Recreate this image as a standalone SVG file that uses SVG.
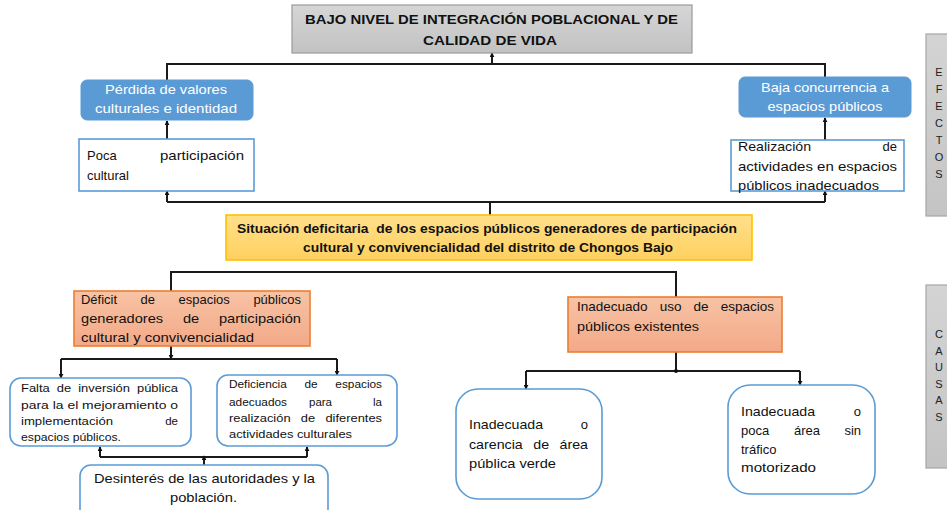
<svg xmlns="http://www.w3.org/2000/svg" width="947" height="510" viewBox="0 0 947 510">
<defs>
<linearGradient id="gGray" x1="0" y1="0" x2="0" y2="1"><stop offset="0" stop-color="#d6d6d6"/><stop offset="1" stop-color="#c2c2c2"/></linearGradient>
<linearGradient id="gYel" x1="0" y1="0" x2="0" y2="1"><stop offset="0" stop-color="#ffe08a"/><stop offset="1" stop-color="#ffd060"/></linearGradient>
<linearGradient id="gSal" x1="0" y1="0" x2="0" y2="1"><stop offset="0" stop-color="#f7c3a4"/><stop offset="1" stop-color="#f3a988"/></linearGradient>
<linearGradient id="gSide" x1="0" y1="0" x2="0" y2="1"><stop offset="0" stop-color="#d4d4d4"/><stop offset="1" stop-color="#c4c4c4"/></linearGradient>
<marker id="ar" viewBox="0 0 6 6" refX="5" refY="3" markerWidth="5" markerHeight="5" orient="auto" markerUnits="userSpaceOnUse"><path d="M0,0 L6,3 L0,6 z" fill="#111"/></marker>
</defs>
<style>
text{font-family:"Liberation Sans",Arial,sans-serif;fill:#111;}
.b{font-weight:bold;}
.w{fill:#fff;}
.f13{font-size:13px;}
.f12{font-size:12.5px;}
.f11{font-size:11.5px;}
.side{font-size:11px;fill:#222;}
.gray{fill:url(#gGray);stroke:#9a9a9a;stroke-width:1.2;}
.blue{fill:#5b9bd5;stroke:#5b9bd5;}
.wb{fill:#fff;stroke:#5b9bd5;stroke-width:1.6;}
.yel{fill:url(#gYel);stroke:#ffc000;stroke-width:1.6;}
.sal{fill:url(#gSal);stroke:#ed7d31;stroke-width:1.6;}
.sidebar{fill:url(#gSide);stroke:#a6a6a6;stroke-width:1.2;}
.c{fill:none;stroke:#1a1a1a;stroke-width:2;}
.ca{fill:none;stroke:#1a1a1a;stroke-width:2;marker-end:url(#ar);}
</style>

<g id="connectors">
<path class="c" d="M167,80 V64 H825 V77"/>
<path class="ca" d="M492,64 V53"/>
<path class="ca" d="M167,139 V121"/>
<path class="ca" d="M825,140 V118"/>
<path class="c" d="M490,215 V202"/>
<path class="ca" d="M167,202 V191"/>
<path class="ca" d="M825,202 H167 M825,202 V191"/>
<path class="c" d="M171,291 V272 H676 V297"/>
<path class="ca" d="M171,346 V359"/>
<path class="c" d="M61,359 H337"/>
<path class="ca" d="M61,359 V378"/>
<path class="ca" d="M337,359 V375"/>
<path class="ca" d="M100,457 V447"/>
<path class="ca" d="M307,457 V447"/>
<path class="c" d="M100,457 H307"/>
<path class="ca" d="M204,465 V456"/>
<path class="c" d="M676,352 V371"/>
<path class="c" d="M526,371 H800"/>
<circle cx="676" cy="371" r="2" fill="#111"/>
<path class="ca" d="M526,371 V389"/>
<path class="ca" d="M800,371 V385"/>
</g>

<g id="node-top">
<rect class="gray" x="292" y="5" width="400" height="48"/>
<text class="b f13" x="491.5" y="24" text-anchor="middle" textLength="373" lengthAdjust="spacingAndGlyphs">BAJO NIVEL DE INTEGRACIÓN POBLACIONAL Y DE</text>
<text class="b f13" x="490" y="45" text-anchor="middle" textLength="134" lengthAdjust="spacingAndGlyphs">CALIDAD DE VIDA</text>
</g>

<g id="node-perdida">
<rect class="blue" x="81" y="80" width="172" height="40" rx="6"/>
<text class="w f13" x="166" y="93.5" text-anchor="middle" textLength="122" lengthAdjust="spacingAndGlyphs">Pérdida de valores</text>
<text class="w f13" x="166" y="112.5" text-anchor="middle" textLength="142" lengthAdjust="spacingAndGlyphs">culturales e identidad</text>
</g>

<g id="node-poca">
<rect class="wb" x="79" y="139" width="175" height="52"/>
<text class="f13" x="87" y="159.5">Poca</text>
<text class="f13" x="244" y="159.5" text-anchor="end" textLength="84" lengthAdjust="spacingAndGlyphs">participación</text>
<text class="f13" x="87" y="179.5">cultural</text>
</g>

<g id="node-baja">
<rect class="blue" x="739" y="77" width="172" height="40" rx="6"/>
<text class="w f13" x="825" y="91.5" text-anchor="middle" textLength="128" lengthAdjust="spacingAndGlyphs">Baja concurrencia a</text>
<text class="w f13" x="825" y="110.5" text-anchor="middle" textLength="115" lengthAdjust="spacingAndGlyphs">espacios públicos</text>
</g>

<g id="node-realizacion">
<rect class="wb" x="731" y="140" width="173" height="51"/>
<text class="f13" x="738" y="151" textLength="73" lengthAdjust="spacingAndGlyphs">Realización</text>
<text class="f13" x="897" y="151" text-anchor="end">de</text>
<text class="f13" x="738" y="171" textLength="159" lengthAdjust="spacingAndGlyphs">actividades en espacios</text>
<text class="f13" x="738" y="189.5" textLength="141" lengthAdjust="spacingAndGlyphs">públicos inadecuados</text>
</g>

<g id="node-situacion">
<rect class="yel" x="226" y="215" width="526" height="45"/>
<text class="b f12" x="487" y="232.5" text-anchor="middle" textLength="500" lengthAdjust="spacingAndGlyphs">Situación deficitaria&#160; de los espacios públicos generadores de participación</text>
<text class="b f12" x="488" y="251.5" text-anchor="middle" textLength="370" lengthAdjust="spacingAndGlyphs">cultural y convivencialidad del distrito de Chongos Bajo</text>
</g>

<g id="node-deficit">
<rect class="sal" x="74" y="291" width="236" height="55"/>
<text class="f13" x="81" y="303.5" textLength="220" lengthAdjust="spacingAndGlyphs" word-spacing="20">Déficit de espacios públicos</text>
<text class="f13" x="81" y="322.5" textLength="220" lengthAdjust="spacingAndGlyphs" word-spacing="14">generadores de participación</text>
<text class="f13" x="81" y="341.5" textLength="173" lengthAdjust="spacingAndGlyphs">cultural y convivencialidad</text>
</g>

<g id="node-inadecuado-uso">
<rect class="sal" x="568" y="297" width="214" height="55"/>
<text class="f13" x="577" y="310.5" textLength="197" lengthAdjust="spacingAndGlyphs" word-spacing="8">Inadecuado uso de espacios</text>
<text class="f13" x="577" y="330.5" textLength="122" lengthAdjust="spacingAndGlyphs">públicos existentes</text>
</g>

<g id="node-falta">
<rect class="wb" x="10" y="378" width="181" height="68" rx="11"/>
<text class="f11" x="21" y="392" textLength="157" lengthAdjust="spacingAndGlyphs" word-spacing="3">Falta de inversión pública</text>
<text class="f11" x="21" y="409" textLength="157" lengthAdjust="spacingAndGlyphs">para la el mejoramiento o</text>
<text class="f11" x="21" y="425" textLength="92" lengthAdjust="spacingAndGlyphs">implementación</text>
<text class="f11" x="178" y="425" text-anchor="end">de</text>
<text class="f11" x="21" y="441" textLength="100" lengthAdjust="spacingAndGlyphs">espacios públicos.</text>
</g>

<g id="node-deficiencia">
<rect class="wb" x="217" y="375" width="180" height="71" rx="11"/>
<text class="f11" x="229" y="388" textLength="153" lengthAdjust="spacingAndGlyphs" word-spacing="14">Deficiencia de espacios</text>
<text class="f11" x="229" y="406" textLength="58" lengthAdjust="spacingAndGlyphs">adecuados</text>
<text class="f11" x="309" y="406">para</text>
<text class="f11" x="382" y="406" text-anchor="end">la</text>
<text class="f11" x="229" y="422" textLength="153" lengthAdjust="spacingAndGlyphs" word-spacing="6">realización de diferentes</text>
<text class="f11" x="229" y="438" textLength="123" lengthAdjust="spacingAndGlyphs">actividades culturales</text>
</g>

<g id="node-desinteres">
<rect class="wb" x="80" y="465" width="248" height="55" rx="11"/>
<text class="f13" x="204.5" y="483" text-anchor="middle" textLength="221" lengthAdjust="spacingAndGlyphs">Desinterés de las autoridades y la</text>
<text class="f13" x="203.5" y="501.5" text-anchor="middle" textLength="67" lengthAdjust="spacingAndGlyphs">población.</text>
</g>

<g id="node-carencia">
<rect class="wb" x="456" y="389" width="146" height="110" rx="22"/>
<text class="f13" x="469" y="428.5" textLength="74" lengthAdjust="spacingAndGlyphs">Inadecuada</text>
<text class="f13" x="588" y="428.5" text-anchor="end">o</text>
<text class="f13" x="469" y="448.5" textLength="119" lengthAdjust="spacingAndGlyphs" word-spacing="6">carencia de área</text>
<text class="f13" x="469" y="467.5" textLength="87" lengthAdjust="spacingAndGlyphs">pública verde</text>
</g>

<g id="node-poca-area">
<rect class="wb" x="728" y="385" width="147" height="109" rx="22"/>
<text class="f13" x="741" y="415.5" textLength="74" lengthAdjust="spacingAndGlyphs">Inadecuada</text>
<text class="f13" x="861" y="415.5" text-anchor="end">o</text>
<text class="f13" x="741" y="434.5">poca</text>
<text class="f13" x="794" y="434.5">área</text>
<text class="f13" x="861" y="434.5" text-anchor="end">sin</text>
<text class="f13" x="741" y="453.5">tráfico</text>
<text class="f13" x="741" y="471.5" textLength="75" lengthAdjust="spacingAndGlyphs">motorizado</text>
</g>

<g id="side-efectos">
<rect class="sidebar" x="926" y="34" width="30" height="182"/>
<text class="side" x="939" y="76" text-anchor="middle">E</text>
<text class="side" x="939" y="93" text-anchor="middle">F</text>
<text class="side" x="939" y="110" text-anchor="middle">E</text>
<text class="side" x="939" y="127" text-anchor="middle">C</text>
<text class="side" x="939" y="144" text-anchor="middle">T</text>
<text class="side" x="939" y="161" text-anchor="middle">O</text>
<text class="side" x="939" y="178" text-anchor="middle">S</text>
</g>

<g id="side-causas">
<rect class="sidebar" x="926" y="285" width="30" height="183"/>
<text class="side" x="939" y="338" text-anchor="middle">C</text>
<text class="side" x="939" y="354.6" text-anchor="middle">A</text>
<text class="side" x="939" y="371.2" text-anchor="middle">U</text>
<text class="side" x="939" y="387.8" text-anchor="middle">S</text>
<text class="side" x="939" y="404.4" text-anchor="middle">A</text>
<text class="side" x="939" y="421" text-anchor="middle">S</text>
</g>
</svg>
